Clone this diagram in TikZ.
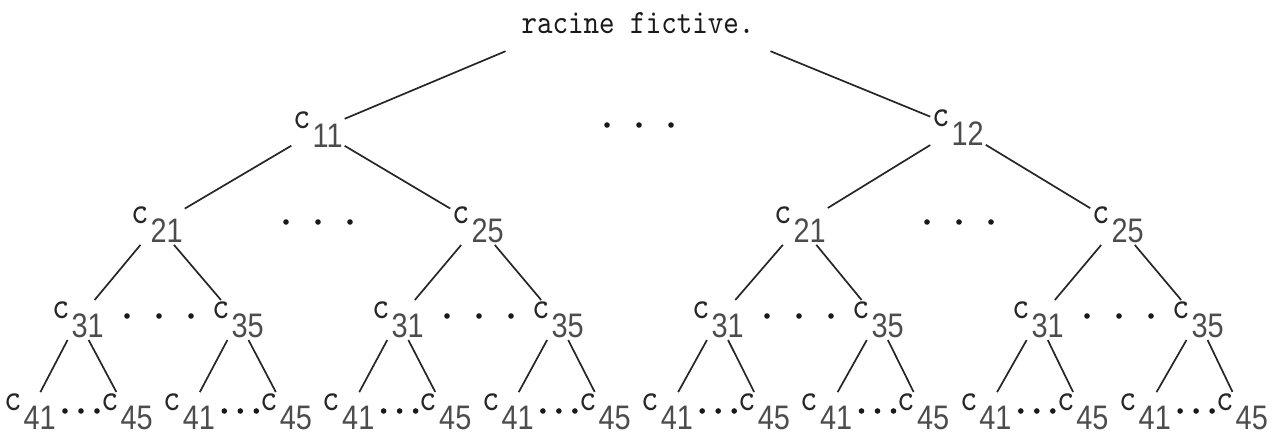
\documentclass[tikz,border=0pt]{standalone}
\usepackage{fontspec}
\newfontfamily\typefont[FakeStretch=0.87]{lmmono10-regular.otf}
\newfontfamily\digitfont[FakeStretch=0.85]{Liberation Sans}
% c with its lowered index, typewriter style
\newcommand{\cname}[1]{{\fontsize{38}{40}\selectfont c}\kern2pt\raisebox{-19pt}{\digitfont\color{black!70}#1}}

\begin{document}
\begin{tikzpicture}[x=1pt,y=-1pt,
  lab/.style={inner sep=0pt,outer sep=2pt,font=\fontsize{34}{36}\typefont,text=black!85},
  branch/.style={line width=1.7pt,black!85},
  dot/.style={fill=black!90}]
\useasboundingbox (0,0) rectangle (1274,436);

\node[lab,inner xsep=14pt,inner ysep=15pt,anchor=base,text=black!90] (root) at (638,34) {racine fictive.};

% level 1
\node[lab] (c11) at (318,130) {\cname{11}};
\node[lab] (c12) at (958,128) {\cname{12}};
\foreach \x in {607,639,671} \fill[dot] (\x,125) circle (2.8);

% level 2
\foreach \x/\n [count=\i] in {157/21,478/25,800/21,1118/25}
  \node[lab] (b\i) at (\x,225) {\cname{\n}};
\foreach \x in {286,318,350,927,959,991} \fill[dot] (\x,222) circle (2.8);

% level 3
\foreach \i/\n in {0/31,1/35,2/31,3/35,4/31,5/35,6/31,7/35}
  \node[lab] (t\i) at ({78+160*\i},320) {\cname{\n}};
\foreach \i in {0,2,4,6}
  \foreach \d in {-32,0,32} \fill[dot] ({159+160*\i+\d},316) circle (2.8);

% level 4
\foreach \i in {0,...,7}{
  \node[lab] (f\i) at ({30+159.3*\i},412) {\cname{41}};
  \node[lab] (l\i) at ({127+159.3*\i},412) {\cname{45}};
  \foreach \d in {-16,0,16} \fill[dot] ({81+159.3*\i+\d},411) circle (2.8);
}

% branches
\draw[branch] (root.south west) -- (c11);
\draw[branch] (root.south east) -- (c12);
\draw[branch] (c11) -- (b1) (c11) -- (b2);
\draw[branch] (c12) -- (b3) (c12) -- (b4);
\foreach \i/\p in {0/1,1/1,2/2,3/2,4/3,5/3,6/4,7/4}
  \draw[branch] (b\p) -- (t\i);
\foreach \i in {0,...,7}
  \draw[branch] (t\i) -- (f\i) (t\i) -- (l\i);
\end{tikzpicture}
\end{document}
